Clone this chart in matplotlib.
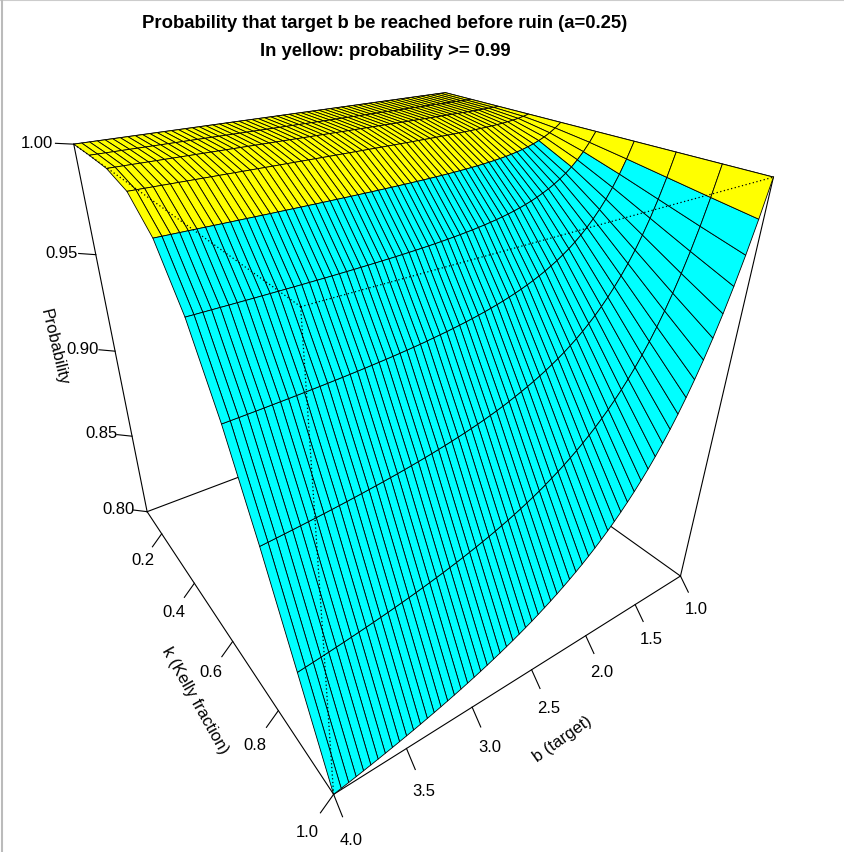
import numpy as np
import matplotlib
matplotlib.use("Agg")
import matplotlib.pyplot as plt
from matplotlib.lines import Line2D
from mpl_toolkits.mplot3d import proj3d

plt.rcParams['font.family'] = ['Liberation Sans', 'DejaVu Sans']

# grid: b (target) along x, k (Kelly fraction) along y
b_target = [1.00, 1.05, 1.10, 1.15, 1.20, 1.25, 1.30, 1.35, 1.40, 1.45,
            1.50, 1.55, 1.60, 1.65, 1.70, 1.75, 1.80, 1.85, 1.90, 1.95,
            2.00, 2.05, 2.10, 2.15, 2.20, 2.25, 2.30, 2.35, 2.40, 2.45,
            2.50, 2.55, 2.60, 2.65, 2.70, 2.75, 2.80, 2.85, 2.90, 2.95,
            3.00, 3.05, 3.10, 3.15, 3.20, 3.25, 3.30, 3.35, 3.40, 3.45,
            3.50, 3.55, 3.60, 3.65, 3.70, 3.75, 3.80, 3.85, 3.90, 3.95,
            4.00]
k_frac = [0.1, 0.2, 0.3, 0.4, 0.5, 0.6, 0.7, 0.8, 0.9, 1.0]

# probability, one row per k
prob_k01 = [1.0] * 61
prob_k02 = [1.0] * 61
prob_k03 = [1.0, .99991, .99984, .99979, .99975, .99972, .99970, .99968, .99967, .99966,
            .99965, .99964, .99964, .99963, .99963, .99963, .99963, .99962, .99962, .99962,
            .99962, .99962, .99962, .99962, .99962, .99962, .99962, .99962, .99961, .99961,
            .99961, .99961, .99961, .99961, .99961, .99961, .99961, .99961, .99961, .99961,
            .99961, .99961, .99961, .99961, .99961, .99961, .99961, .99961, .99961, .99961,
            .99961, .99961, .99961, .99961, .99961, .99961, .99961, .99961, .99961, .99961,
            .99961]
prob_k04 = [1.0, .99931, .99876, .99832, .99797, .99769, .99746, .99727, .99711, .99697,
            .99686, .99677, .99669, .99662, .99656, .99651, .99647, .99643, .99639, .99636,
            .99634, .99631, .99629, .99628, .99626, .99625, .99623, .99622, .99621, .99620,
            .99619, .99618, .99618, .99617, .99616, .99616, .99615, .99615, .99614, .99614,
            .99614, .99613, .99613, .99613, .99613, .99612, .99612, .99612, .99612, .99612,
            .99612, .99612, .99611, .99611, .99611, .99611, .99611, .99611, .99611, .99611,
            .99611]
prob_k05 = [1.0, .99784, .99607, .99459, .99336, .99231, .99142, .99067, .99001, .98945,
            .98895, .98852, .98815, .98781, .98752, .98725, .98702, .98681, .98662, .98645,
            .98630, .98616, .98604, .98592, .98582, .98573, .98564, .98556, .98549, .98542,
            .98536, .98530, .98525, .98520, .98516, .98511, .98508, .98504, .98501, .98497,
            .98494, .98492, .98489, .98487, .98484, .98482, .98480, .98478, .98477, .98475,
            .98473, .98472, .98470, .98469, .98468, .98467, .98466, .98464, .98463, .98462,
            .98461]
prob_k06 = [1.0, .99561, .99190, .98873, .98599, .98363, .98158, .97978, .97819, .97679,
            .97553, .97442, .97342, .97252, .97171, .97098, .97031, .96971, .96916, .96865,
            .96819, .96776, .96737, .96701, .96667, .96636, .96607, .96580, .96555, .96532,
            .96510, .96490, .96471, .96453, .96436, .96421, .96406, .96392, .96379, .96367,
            .96355, .96344, .96333, .96323, .96314, .96305, .96296, .96288, .96281, .96273,
            .96266, .96260, .96253, .96247, .96242, .96236, .96231, .96226, .96221, .96216,
            .96212]
prob_k07 = [1.0, .99291, .98679, .98150, .97685, .97278, .96917, .96596, .96309, .96052,
            .95819, .95609, .95418, .95244, .95085, .94940, .94806, .94683, .94569, .94464,
            .94366, .94275, .94191, .94112, .94039, .93970, .93905, .93845, .93788, .93734,
            .93683, .93636, .93591, .93548, .93508, .93470, .93434, .93399, .93366, .93335,
            .93306, .93278, .93251, .93225, .93200, .93177, .93154, .93133, .93112, .93093,
            .93074, .93056, .93038, .93022, .93006, .92990, .92975, .92961, .92947, .92934,
            .92921]
prob_k08 = [1.0, .99002, .98132, .97369, .96694, .96095, .95557, .95076, .94641, .94247,
            .93888, .93560, .93260, .92984, .92729, .92494, .92276, .92073, .91885, .91709,
            .91545, .91392, .91248, .91113, .90985, .90865, .90752, .90645, .90544, .90448,
            .90357, .90271, .90189, .90111, .90037, .89966, .89898, .89834, .89772, .89713,
            .89657, .89603, .89551, .89501, .89453, .89408, .89364, .89321, .89280, .89241,
            .89203, .89166, .89131, .89097, .89064, .89032, .89002, .88972, .88943, .88916,
            .88889]
prob_k09 = [1.0, .98714, .97585, .96586, .95698, .94902, .94185, .93536, .92947, .92409,
            .91916, .91463, .91046, .90660, .90302, .89969, .89659, .89369, .89098, .88844,
            .88605, .88381, .88169, .87969, .87780, .87601, .87432, .87271, .87118, .86972,
            .86834, .86702, .86575, .86455, .86339, .86229, .86124, .86022, .85925, .85832,
            .85742, .85656, .85573, .85493, .85416, .85341, .85270, .85200, .85134, .85069,
            .85007, .84946, .84888, .84831, .84776, .84723, .84671, .84621, .84573, .84526,
            .84480]
prob_k10 = [1.0, .98438, .97059, .95833, .94737, .93750, .92857, .92045, .91304, .90625,
            .90000, .89423, .88889, .88393, .87931, .87500, .87097, .86719, .86364, .86029,
            .85714, .85417, .85135, .84868, .84615, .84375, .84146, .83929, .83721, .83523,
            .83333, .83152, .82979, .82813, .82653, .82500, .82353, .82212, .82075, .81944,
            .81818, .81696, .81579, .81466, .81356, .81250, .81148, .81049, .80952, .80859,
            .80769, .80682, .80597, .80515, .80435, .80357, .80282, .80208, .80137, .80067,
            .80000]

z_ticks = [0.80, 0.85, 0.90, 0.95, 1.00]
k_ticks = [0.2, 0.4, 0.6, 0.8, 1.0]
b_ticks = [1.0, 1.5, 2.0, 2.5, 3.0, 3.5, 4.0]
threshold = 0.99

prob = np.array([prob_k01, prob_k02, prob_k03, prob_k04, prob_k05,
                 prob_k06, prob_k07, prob_k08, prob_k09, prob_k10])
B, K = np.meshgrid(b_target, k_frac)

# facet colour from the mean of its four corners
facet = (prob[:-1, :-1] + prob[1:, :-1] + prob[:-1, 1:] + prob[1:, 1:]) / 4
cols = np.full(prob.shape, 'cyan', dtype=object)
cols[:-1, :-1] = np.where(facet >= threshold, 'yellow', 'cyan')

fig = plt.figure(figsize=(8.44, 8.53), dpi=100)
ax = fig.add_axes([0.03085, 0.11885, 0.8632, 0.85409], projection='3d',
                  computed_zorder=False)
ax.set_proj_type('persp', focal_length=0.2044)
ax.view_init(elev=29.85, azim=55.12)
ax.set_box_aspect((1, 1, 1))
b0, b1 = b_target[0], b_target[-1]
k0, k1 = k_frac[0], k_frac[-1]
z0, z1 = z_ticks[0], z_ticks[-1]
ax.set_xlim(b0, b1)
ax.set_ylim(k0, k1)
ax.set_zlim(z0, z1)
ax.set_axis_off()

def seg(p, q, **kw):
    ax.plot([p[0], q[0]], [p[1], q[1]], [p[2], q[2]], clip_on=False, **kw)

# box: edges behind / beside the surface are solid, the three front ones dotted
solid = [((b1, k0, z0), (b1, k0, z1)), ((b1, k0, z0), (b1, k1, z0)),
         ((b1, k1, z0), (b0, k1, z0)), ((b0, k1, z0), (b0, k1, z1)),
         ((b1, k0, z1), (b0, k0, z1)), ((b0, k0, z1), (b0, k1, z1)),
         ((b1, k0, z0), (b0, k0, z0)), ((b0, k0, z0), (b0, k1, z0)),
         ((b0, k0, z0), (b0, k0, z1))]
dotted = [((b1, k1, z0), (b1, k1, z1)), ((b1, k1, z1), (b1, k0, z1)),
          ((b1, k1, z1), (b0, k1, z1))]
for p, q in solid:
    seg(p, q, color='black', lw=0.8, zorder=1)

surf = ax.plot_surface(B, K, prob, facecolors=cols, rstride=1, cstride=1,
                       shade=False, zorder=2)
surf.set_edgecolor('black')
surf.set_linewidth(0.6)
surf.set_clip_on(False)

for p, q in dotted:
    seg(p, q, color='black', lw=0.9, ls=(0, (1, 2)), zorder=3)

# labels go through the axes' own projection, then sit as flat figure text
ax.apply_aspect()
M = ax.get_proj()

def to_px(x, y, z):
    xs, ys, _ = proj3d.proj_transform(np.atleast_1d(x), np.atleast_1d(y), np.atleast_1d(z), M)
    return ax.transData.transform(np.column_stack([xs, ys]))[0]

def label(x, y, z, s, along=None, **kw):
    px = to_px(x, y, z)
    rot = 0
    if along is not None:
        q = to_px(x + along[0], y + along[1], z + along[2])
        rot = np.degrees(np.arctan2(q[1] - px[1], q[0] - px[0]))
    fx, fy = fig.transFigure.inverted().transform(px)
    fig.text(fx, fy, s, ha='center', va='center', rotation=rot, fontsize=12, **kw)

# ticks in the persp() "detailed" style
tb = 0.03 * (b1 - b0)
tk = 0.03 * (k1 - k0)
tz = 0.03 * (z1 - z0)
for t in z_ticks:
    seg((b1, k0, t), (b1 + tb, k0 - tk, t), color='black', lw=0.8, zorder=4)
    label(b1 + 2 * tb, k0 - 2 * tk, t, f"{t:.2f}")
for t in k_ticks:
    seg((b1, t, z0), (b1 + tb, t, z0 - tz), color='black', lw=0.8, zorder=4)
    label(b1 + 2 * tb, t, z0 - 2 * tz, f"{t:.1f}")
for t in b_ticks:
    seg((t, k1, z0), (t, k1 + tk, z0 - tz), color='black', lw=0.8, zorder=4)
    label(t, k1 + 2 * tk, z0 - 2 * tz, f"{t:.1f}")

label(b1 + 3.8 * tb, k0 - 3.8 * tk, (z0 + z1) / 2, "Probability", along=(0, 0, -0.02))
label(b1 + 3.6 * tb, 0.61, z0 - 3.6 * tz, "k (Kelly fraction)", along=(0, 0.05, 0))
label((b0 + b1) / 2, k1 + 3.6 * tk, z0 - 3.6 * tz, "b (target)", along=(-0.2, 0, 0))

fig.text(385 / 844, 1 - 23 / 853, "Probability that target b be reached before ruin (a=0.25)",
         ha='center', va='center', fontsize=13.3, fontweight='bold')
fig.text(385 / 844, 1 - 51 / 853, "In yellow: probability >= 0.99",
         ha='center', va='center', fontsize=13.3, fontweight='bold')

# thin window border seen at the top and left of the screenshot
fig.add_artist(Line2D([0, 1], [0.999, 0.999], transform=fig.transFigure, color='#cccccc', lw=1.5))
fig.add_artist(Line2D([0.002, 0.002], [0, 1], transform=fig.transFigure, color='#bbbbbb', lw=1.5))

fig.savefig("out.png", dpi=100)
